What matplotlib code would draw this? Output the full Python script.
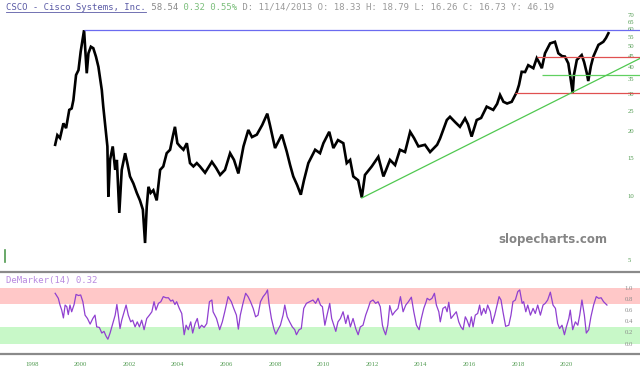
import matplotlib
matplotlib.use("Agg")
import matplotlib.pyplot as plt
from matplotlib.lines import Line2D

# ---------------- data ----------------
price_dates = [1998.95, 1999.04, 1999.15, 1999.29, 1999.40, 1999.53, 1999.63, 1999.70, 1999.81, 1999.91,
               2000.00, 2000.11, 2000.14, 2000.25, 2000.32, 2000.42, 2000.52, 2000.63, 2000.73, 2000.80,
               2000.87, 2000.93, 2001.00, 2001.10, 2001.14, 2001.21, 2001.32, 2001.42, 2001.49, 2001.59,
               2001.69, 2001.83, 2001.92, 2002.03, 2002.17, 2002.31, 2002.44, 2002.56, 2002.65, 2002.72,
               2002.79, 2002.88, 2002.99, 2003.13, 2003.27, 2003.40, 2003.54, 2003.68, 2003.79, 2003.88,
               2003.98, 2004.09, 2004.23, 2004.37, 2004.50, 2004.64, 2004.78, 2004.91, 2005.12, 2005.40,
               2005.57, 2005.74, 2005.94, 2006.15, 2006.31, 2006.49, 2006.70, 2006.90, 2007.05, 2007.25,
               2007.47, 2007.68, 2007.79, 2008.00, 2008.28, 2008.48, 2008.62, 2008.75, 2008.91, 2009.06,
               2009.19, 2009.37, 2009.65, 2009.85, 2009.99, 2010.23, 2010.40, 2010.59, 2010.81, 2010.95,
               2011.09, 2011.22, 2011.42, 2011.57, 2011.70, 2011.98, 2012.25, 2012.46, 2012.57, 2012.73,
               2012.94, 2013.14, 2013.35, 2013.56, 2013.72, 2013.90, 2014.17, 2014.38, 2014.67, 2014.79,
               2015.07, 2015.20, 2015.41, 2015.61, 2015.82, 2015.94, 2016.09, 2016.30, 2016.48, 2016.71,
               2016.98, 2017.14, 2017.26, 2017.40, 2017.55, 2017.74, 2017.95, 2018.04, 2018.15, 2018.29,
               2018.42, 2018.63, 2018.77, 2018.86, 2018.98, 2019.11, 2019.32, 2019.52, 2019.66, 2019.81,
               2019.93, 2020.07, 2020.25, 2020.30, 2020.42, 2020.62, 2020.72, 2020.83, 2020.89, 2021.00,
               2021.10, 2021.31, 2021.51, 2021.62, 2021.72]
price_close = [17.3, 19.2, 18.6, 21.8, 20.7, 25.2, 25.6, 28.0, 36.7, 38.7,
               47.2, 56.5, 59.5, 37.4, 46.4, 49.8, 49.0, 44.7, 40.1, 35.4,
               31.2, 26.1, 21.8, 17.0, 9.9, 14.7, 17.0, 13.2, 14.7, 8.3,
               13.2, 15.8, 14.2, 12.3, 11.4, 10.3, 9.5, 8.6, 6.0, 8.9,
               11.0, 10.3, 10.6, 9.5, 13.2, 13.7, 15.8, 16.4, 18.9, 21.0,
               17.6, 17.0, 16.4, 17.6, 14.2, 13.7, 14.2, 13.7, 12.8, 14.4,
               13.5, 12.5, 13.2, 15.8, 14.7, 12.7, 17.0, 20.3, 18.8, 19.3,
               21.4, 24.2, 21.4, 16.7, 19.3, 16.1, 13.9, 12.3, 11.2, 10.1,
               11.8, 14.2, 16.4, 15.8, 17.6, 19.9, 16.7, 18.2, 17.6, 14.2,
               14.7, 12.3, 11.8, 9.8, 12.5, 13.7, 15.2, 12.3, 13.2, 14.7,
               13.9, 16.4, 16.0, 19.9, 18.6, 17.0, 17.3, 16.0, 17.3, 18.5,
               22.6, 23.4, 22.1, 21.0, 23.0, 21.6, 18.9, 22.6, 23.1, 26.1,
               25.2, 26.9, 29.6, 27.5, 27.0, 27.5, 30.6, 33.0, 38.0, 37.9,
               40.8, 39.5, 44.0, 42.2, 39.5, 46.4, 51.6, 52.5, 46.4, 45.0,
               44.8, 41.6, 30.3, 36.7, 43.2, 45.5, 42.2, 37.5, 34.4, 40.5,
               44.8, 50.8, 52.5, 54.7, 57.6]

dem_dates = [1998.95, 1999.08, 1999.15, 1999.22, 1999.29, 1999.36, 1999.43, 1999.49, 1999.56, 1999.63,
             1999.73, 1999.81, 1999.91, 2000.00, 2000.09, 2000.18, 2000.28, 2000.39, 2000.50, 2000.59,
             2000.66, 2000.77, 2000.87, 2000.96, 2001.05, 2001.12, 2001.21, 2001.32, 2001.42, 2001.49,
             2001.55, 2001.62, 2001.69, 2001.79, 2001.87, 2001.96, 2002.06, 2002.14, 2002.24, 2002.33,
             2002.42, 2002.51, 2002.61, 2002.72, 2002.83, 2002.93, 2003.02, 2003.10, 2003.20, 2003.30,
             2003.40, 2003.51, 2003.61, 2003.71, 2003.79, 2003.88, 2003.95, 2004.06, 2004.16, 2004.26,
             2004.34, 2004.43, 2004.53, 2004.61, 2004.71, 2004.80, 2004.88, 2004.98, 2005.08, 2005.19,
             2005.30, 2005.40,
             2005.45, 2005.59, 2005.72, 2005.83, 2005.93, 2006.07, 2006.20, 2006.30, 2006.41, 2006.49,
             2006.57, 2006.68, 2006.79, 2006.89, 2006.99, 2007.10, 2007.20, 2007.30, 2007.40, 2007.51,
             2007.62, 2007.69, 2007.75, 2007.85, 2007.95, 2008.03, 2008.12, 2008.22, 2008.33, 2008.40,
             2008.50, 2008.60, 2008.71, 2008.81, 2008.88, 2008.99, 2009.08, 2009.18, 2009.29, 2009.43,
             2009.56, 2009.67, 2009.77, 2009.87, 2009.95, 2010.05, 2010.14, 2010.25, 2010.33, 2010.42,
             2010.50, 2010.59, 2010.69, 2010.80, 2010.91, 2011.00, 2011.10, 2011.21, 2011.32, 2011.42,
             2011.51, 2011.62, 2011.73, 2011.83, 2011.92, 2012.03, 2012.14, 2012.24, 2012.33, 2012.42,
             2012.47, 2012.55, 2012.64, 2012.72, 2012.83, 2012.93, 2013.06, 2013.16, 2013.27, 2013.38,
             2013.49, 2013.61, 2013.71, 2013.82, 2013.93, 2014.02, 2014.12, 2014.22,
             2014.26, 2014.36, 2014.46, 2014.56, 2014.64, 2014.74, 2014.80, 2014.91, 2015.01, 2015.08,
             2015.15, 2015.24, 2015.35, 2015.46, 2015.56, 2015.65, 2015.74, 2015.83, 2015.90, 2016.00,
             2016.08, 2016.15, 2016.24, 2016.34, 2016.42, 2016.49, 2016.59, 2016.67, 2016.75, 2016.86,
             2016.94, 2017.04, 2017.14, 2017.22, 2017.30, 2017.38, 2017.49, 2017.62, 2017.71, 2017.79,
             2017.89, 2017.99, 2018.07, 2018.17, 2018.23, 2018.32, 2018.40, 2018.51, 2018.62, 2018.71,
             2018.81, 2018.92, 2019.03, 2019.12, 2019.22, 2019.33, 2019.44, 2019.54, 2019.63, 2019.71,
             2019.81, 2019.91, 2019.99, 2020.09, 2020.15, 2020.25, 2020.36, 2020.46, 2020.54, 2020.63,
             2020.73, 2020.81, 2020.91, 2021.00, 2021.11, 2021.22, 2021.32, 2021.42, 2021.52, 2021.66]
dem_values = [0.90, 0.81, 0.69, 0.60, 0.46, 0.69, 0.66, 0.52, 0.69, 0.57,
              0.70, 0.88, 0.86, 0.87, 0.75, 0.51, 0.45, 0.35, 0.45, 0.51,
              0.30, 0.29, 0.19, 0.22, 0.13, 0.08, 0.19, 0.36, 0.51, 0.70,
              0.51, 0.27, 0.42, 0.57, 0.69, 0.51, 0.39, 0.42, 0.30, 0.39,
              0.30, 0.42, 0.25, 0.45, 0.51, 0.57, 0.75, 0.60, 0.72, 0.75,
              0.84, 0.82, 0.82, 0.76, 0.78, 0.70, 0.75, 0.63, 0.54, 0.16,
              0.33, 0.25, 0.39, 0.19, 0.36, 0.45, 0.27, 0.33, 0.29, 0.36,
              0.75, 0.78,
              0.57, 0.45, 0.25, 0.39, 0.57, 0.84, 0.75, 0.63, 0.51, 0.26,
              0.51, 0.72, 0.90, 0.84, 0.75, 0.63, 0.48, 0.51, 0.75, 0.84,
              0.90, 0.96, 0.72, 0.45, 0.27, 0.17, 0.25, 0.33, 0.51, 0.69,
              0.48, 0.39, 0.30, 0.25, 0.16, 0.25, 0.27, 0.63, 0.72, 0.75,
              0.78, 0.72, 0.81, 0.69, 0.66, 0.33, 0.51, 0.72, 0.45, 0.33,
              0.22, 0.39, 0.45, 0.57, 0.36, 0.51, 0.30, 0.45, 0.27, 0.16,
              0.30, 0.33, 0.51, 0.63, 0.75, 0.78, 0.72, 0.75, 0.66, 0.33,
              0.25, 0.16, 0.33, 0.68, 0.51, 0.57, 0.63, 0.84, 0.57, 0.69,
              0.75, 0.83, 0.57, 0.33, 0.25, 0.45, 0.63, 0.75,
              0.81, 0.78, 0.81, 0.90, 0.69, 0.57, 0.39, 0.63, 0.66, 0.57,
              0.74, 0.45, 0.51, 0.57, 0.39, 0.30, 0.25, 0.48, 0.42, 0.30,
              0.48, 0.30, 0.51, 0.54, 0.69, 0.51, 0.63, 0.54, 0.69, 0.57,
              0.36, 0.51, 0.69, 0.84, 0.78, 0.57, 0.31, 0.33, 0.51, 0.75,
              0.78, 0.93, 0.96, 0.72, 0.75, 0.57, 0.69, 0.51, 0.63, 0.54,
              0.69, 0.51, 0.69, 0.72, 0.78, 0.92, 0.69, 0.63, 0.36, 0.27,
              0.33, 0.16, 0.30, 0.45, 0.60, 0.25, 0.39, 0.33, 0.51, 0.78,
              0.51, 0.19, 0.25, 0.48, 0.69, 0.84, 0.81, 0.82, 0.75, 0.69]

price_ticks = [5, 10, 15, 20, 25, 30, 35, 40, 45, 50, 55, 60, 65, 70]
dem_ticks = [0.0, 0.2, 0.4, 0.6, 0.8, 1.0]
year_ticks = [1998, 2000, 2002, 2004, 2006, 2008, 2010, 2012, 2014, 2016, 2018, 2020]

peak_level = 59.5          # blue horizontal line
red_levels = [(2018.77, 44.8), (2017.88, 30.3)]
green_level = (2018.98, 36.7)
trend_start = (2011.57, 9.75)
trend_end = (2023.02, 43.9)
peak_date = 2000.14

title_segments = [("CSCO - Cisco Systems, Inc.", "#5b5ba6"), (" 58.54", "#8a8a8a"),
                  (" 0.32 0.55%", "#7cbf7c"),
                  (" D: 11/14/2013 O: 18.33 H: 18.79 L: 16.26 C: 16.73 Y: 46.19", "#9a9a9a")]

# ---------------- figure ----------------
W, H = 640, 378
fig = plt.figure(figsize=(6.4, 3.78), dpi=100)
fig.patch.set_facecolor("white")

def fy(py):
    return 1 - py / H

ax = fig.add_axes([0, fy(272), 1, 272 / H])
ax2 = fig.add_axes([0, fy(354), 1, (354 - 272) / H], sharex=ax)

xmin, xmax = 1996.68, 2023.02
ax.set_xlim(xmin, xmax)
ax.set_yscale("log")
ax.set_ylim(4.39, 82.4)
for s in ax.spines.values():
    s.set_visible(False)

ax.plot(price_dates, price_close, color="black", lw=1.9, solid_joinstyle="miter")
ax.hlines(peak_level, peak_date, xmax, color="#6b6bf0", lw=0.9)
for d, lv in red_levels:
    ax.hlines(lv, d, xmax, color="#e05050", lw=0.9)
ax.hlines(green_level[1], green_level[0], xmax, color="#60d060", lw=0.9)
ax.plot([trend_start[0], trend_end[0]], [trend_start[1], trend_end[1]], color="#50c850", lw=0.9)

ax.yaxis.tick_right()
ax.set_yticks(price_ticks)
ax.set_yticklabels([str(t) for t in price_ticks])
ax.yaxis.set_minor_locator(matplotlib.ticker.NullLocator())
ax.tick_params(axis="y", length=0, pad=-9, labelsize=4.8, labelcolor="#4f9a4f")
for tl in ax.get_yticklabels():
    tl.set_fontfamily("Liberation Serif")
ax.tick_params(axis="x", bottom=False, labelbottom=False)

ax.text(553, H - 239, "slopecharts.com", transform=None, ha="center", va="center",
        fontsize=8.5, fontweight="bold", color="#858585", family="DejaVu Sans")

# DeMarker panel
ax2.set_ylim(-0.184, 1.28)
ax2.axhspan(0.7, 1.0, color="#ffc8c8", lw=0)
ax2.axhspan(0.0, 0.3, color="#c8f8c8", lw=0)
ax2.plot(dem_dates, dem_values, color="#9040d0", lw=0.9)
for k in ("left", "right"):
    ax2.spines[k].set_visible(False)
for k in ("top", "bottom"):
    ax2.spines[k].set_color("#8a8a8a")
    ax2.spines[k].set_linewidth(1.6)
ax2.yaxis.tick_right()
ax2.set_yticks(dem_ticks)
ax2.set_yticklabels([f"{t:.1f}" for t in dem_ticks])
ax2.tick_params(axis="y", length=0, pad=-11, labelsize=4.8, labelcolor="#8a8a8a")
ax2.set_xticks(year_ticks)
ax2.set_xticklabels([str(y) for y in year_ticks])
ax2.tick_params(axis="x", length=0, pad=6, labelsize=4.8, labelcolor="#4f9a4f")
for tl in ax2.get_yticklabels() + ax2.get_xticklabels():
    tl.set_fontfamily("Liberation Serif")

ax2.text(6, H - 280, "DeMarker(14) 0.32", transform=None, ha="left", va="center",
         fontsize=6.5, family="DejaVu Sans Mono", color="#b88ae0")

# small green marker at lower left of price panel
fig.add_artist(Line2D([5 / W, 5 / W], [fy(250), fy(262)], color="#4f9a4f", lw=1.2))

# title, drawn segment by segment
fig.canvas.draw()
renderer = fig.canvas.get_renderer()
x = 6
first = None
for txt, col in title_segments:
    t = fig.text(x / W, fy(7.5), txt, ha="left", va="center", fontsize=6.5,
                 family="DejaVu Sans Mono", color=col)
    bb = t.get_window_extent(renderer)
    if first is None:
        first = bb
    x = bb.x1
fig.add_artist(Line2D([first.x0 / W, first.x1 / W], [fy(12), fy(12)], color="#5b5ba6", lw=0.6))

fig.savefig("out.png", dpi=100)
